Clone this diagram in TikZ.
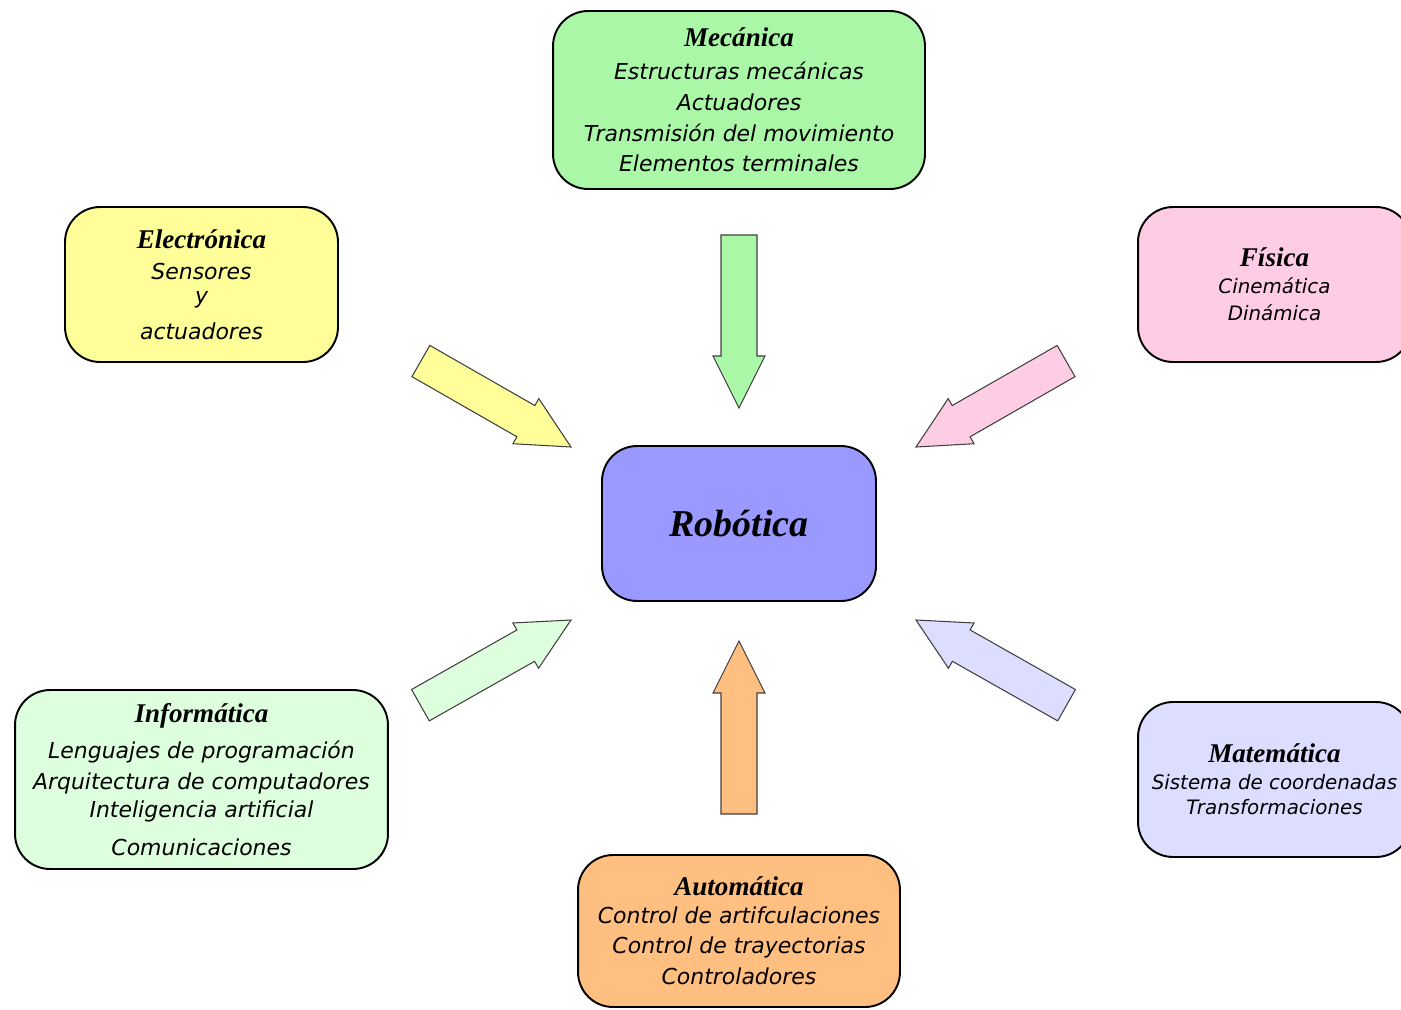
\documentclass[tikz,border=0pt]{standalone}
\usepackage{fontspec}
\setmainfont{Liberation Serif}
\newfontfamily\cuerpo{DejaVu Sans}

\definecolor{verdeMec}{RGB}{170,247,168}
\definecolor{amarillo}{RGB}{255,255,153}
\definecolor{rosa}{RGB}{255,204,229}
\definecolor{azulRob}{RGB}{153,153,255}
\definecolor{verdeInf}{RGB}{221,255,221}
\definecolor{lavanda}{RGB}{221,221,255}
\definecolor{naranja}{RGB}{255,191,128}

\newcommand{\titulo}[1]{{\fontsize{15.4}{17.6}\selectfont\rmfamily\bfseries\itshape #1}}
% flecha gruesa: color, angulo, punta
\newcommand{\flecha}[3]{%
  \draw[flechabox, fill=#1, shift={(#3)}, rotate=#2]
    (0,0) -- (-52,26) -- (-52,18) -- (-173,18) -- (-173,-18) -- (-52,-18) -- (-52,-26) -- cycle;}

\begin{document}
\begin{tikzpicture}[
  x=0.02cm, y=-0.02cm,
  caja/.style={draw, line width=1.1pt, rounded corners=0.7cm, align=center, inner sep=0pt,
    font=\cuerpo\itshape\fontsize{12.5}{17.6}\selectfont},
  chica/.style={font=\cuerpo\itshape\fontsize{11.3}{15.4}\selectfont},
  flechabox/.style={draw=black!75, line width=0.6pt, line join=miter}
]
\useasboundingbox (0,0) rectangle (1401,1009);

% centro
\node[caja, fill=azulRob, minimum width=5.48cm, minimum height=3.10cm,
  font=\fontsize{21.6}{26}\selectfont\bfseries\itshape] (rob) at (739,523.5) {Robótica};

% areas
\node[caja, fill=verdeMec, minimum width=7.44cm, minimum height=3.56cm] (mec) at (739,100)
  {\titulo{Mecánica}\\[1pt] Estructuras mecánicas\\ Actuadores\\ Transmisión del movimiento\\ Elementos terminales};
\node[caja, fill=amarillo, minimum width=5.46cm, minimum height=3.10cm] (ele) at (201.5,284.5)
  {\titulo{Electrónica}\\ Sensores\\[-4pt] y\\[3pt] actuadores};
\node[caja, chica, fill=rosa, minimum width=5.46cm, minimum height=3.10cm] (fis) at (1274.5,284.5)
  {\titulo{Física}\\ Cinemática\\ Dinámica};
\node[caja, fill=verdeInf, minimum width=7.46cm, minimum height=3.58cm] (inf) at (201.5,779.5)
  {\titulo{Informática}\\[3pt] Lenguajes de programación\\ Arquitectura de computadores\\[-2pt] Inteligencia artificial\\[4pt] Comunicaciones};
\node[caja, chica, fill=lavanda, minimum width=5.46cm, minimum height=3.10cm] (mat) at (1274.5,779.5)
  {\titulo{Matemática}\\ Sistema de coordenadas\\[-1pt] Transformaciones};
\node[caja, fill=naranja, minimum width=6.44cm, minimum height=3.04cm] (aut) at (739,931)
  {\titulo{Automática}\\[-2pt] Control de artifculaciones\\ Control de trayectorias\\ Controladores};

% puntas de las flechas
\coordinate (pMec) at (739,408);
\coordinate (pEle) at (571,447);
\coordinate (pFis) at (916,447);
\coordinate (pInf) at (571,620);
\coordinate (pMat) at (916,620);
\coordinate (pAut) at (739,641);

\flecha{verdeMec}{-90}{pMec}
\flecha{amarillo}{-29.8}{pEle}
\flecha{rosa}{-150.2}{pFis}
\flecha{verdeInf}{29.5}{pInf}
\flecha{lavanda}{150.5}{pMat}
\flecha{naranja}{90}{pAut}

\end{tikzpicture}
\end{document}
